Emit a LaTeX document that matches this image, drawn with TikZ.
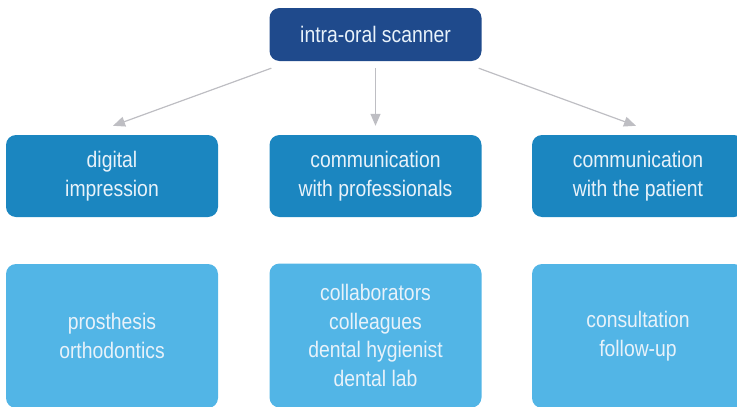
\documentclass[tikz,border=0pt]{standalone}
\usepackage{fontspec}
\setmainfont[FakeStretch=0.86]{Liberation Sans}
\usetikzlibrary{arrows.meta}

\definecolor{scandark}{RGB}{31,74,140}
\definecolor{scanmid}{RGB}{27,134,192}
\definecolor{scanlight}{RGB}{82,181,230}
\definecolor{scanarrow}{RGB}{190,190,195}
\definecolor{scantext}{RGB}{232,242,250}

\tikzset{
  box/.style = {rounded corners=10pt, text=scantext, align=center,
    font=\fontsize{22.5}{28.5}\selectfont, minimum width=212pt, inner sep=0pt},
  headbox/.style = {box, fill=scandark, minimum height=53pt},
  usebox/.style = {box, fill=scanmid, minimum height=82pt},
  itembox/.style = {box, fill=scanlight, minimum height=144pt},
  link/.style = {draw=scanarrow, line width=1.2pt,
    -{Triangle[length=12pt,width=10pt]}, scanarrow}
}

\begin{document}
\begin{tikzpicture}[x=1pt, y=-1pt]
    \useasboundingbox (0,0) rectangle (737,407);
    \clip (0,0) rectangle (737,407);

    \node[headbox] (scanner) at (375.5,34.5) {intra-oral scanner};

    \node[usebox] (digital) at (112,176) {digital\\impression};
    \node[usebox] (prof) at (375.5,176) {communication\\with professionals};
    \node[usebox] (patient) at (638,176) {communication\\with the patient};

    \node[itembox] (prosth) at (112,336) {prosthesis\\orthodontics};
    \node[itembox] (collab) at (375.5,335.5)
      {collaborators\\colleagues\\dental hygienist\\dental lab};
    \node[itembox] (consult) at (638,336) {consultation\\follow-up};

    \draw[link] ([shift={(2,7)}]scanner.south west) -- ([shift={(1,-9)}]digital.north);
    \draw[link] ([shift={(0,7)}]scanner.south) -- ([shift={(0,-9)}]prof.north);
    \draw[link] ([shift={(-3,7)}]scanner.south east) -- ([shift={(-2,-9)}]patient.north);
\end{tikzpicture}
\end{document}
